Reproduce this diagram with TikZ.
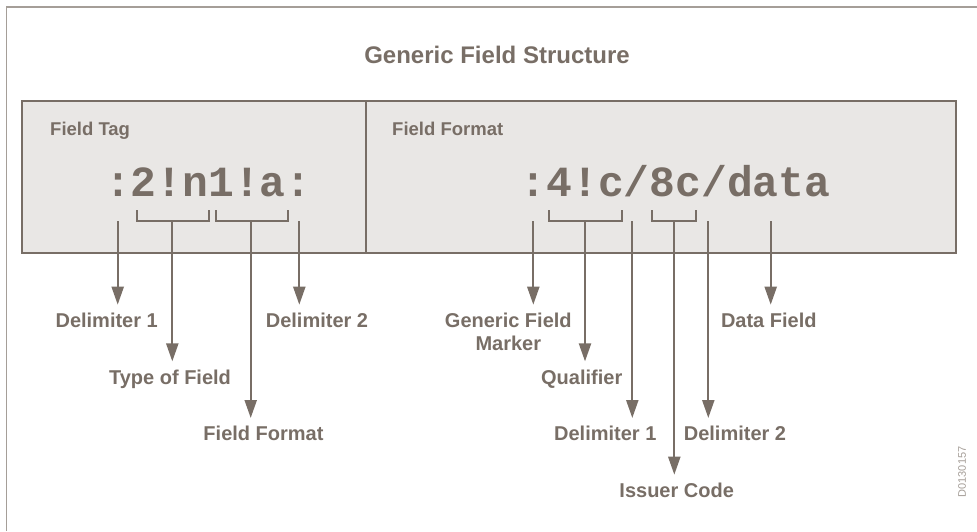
\documentclass[tikz,border=0pt]{standalone}
\usepackage{fontspec}
\setmainfont{Liberation Sans}
\newfontfamily\monob{Liberation Mono}
\usetikzlibrary{arrows.meta}
\definecolor{ink}{RGB}{120,110,102}
\definecolor{boxfill}{RGB}{233,231,229}
\definecolor{framec}{RGB}{165,158,152}
\begin{document}
\begin{tikzpicture}[x=1pt,y=-1pt,
  lab/.style={font=\fontsize{20}{23.3}\selectfont\bfseries, text=ink, inner sep=0pt, anchor=north, align=center},
  codetxt/.style={font=\fontsize{43}{43}\monob\bfseries, text=ink, inner sep=0pt, anchor=base west},
  head/.style={font=\fontsize{18.5}{20}\selectfont\bfseries, text=ink, inner sep=0pt, anchor=base west},
  arr/.style={draw=ink, line width=2.2pt, -{Triangle[length=18pt,width=12pt]}, shorten >=8pt},
  brk/.style={draw=ink, line width=2pt}]
\useasboundingbox (0,0) rectangle (977,531);
% outer frame (only top and left visible)
\draw[framec, line width=1.5pt] (6.5,531) -- (6.5,7) -- (977,7);
% title
\node[font=\fontsize{24}{26}\selectfont\bfseries, text=ink, inner sep=0pt, anchor=base] (title) at (497,63.5) {Generic Field Structure};
% boxes
\draw[ink, fill=boxfill, line width=2.6pt] (22,101) rectangle (956,253);
\draw[ink, line width=2.6pt] (366,101) -- (366,253);
\node[head] (tagh) at (50,135) {Field Tag};
\node[head] (fmth) at (392,135) {Field Format};
% code strings
\node[codetxt] (tagcode) at (104.9,196.7) {:2!n1!a:};
\node[codetxt] (fmtcode) at (520.4,196.7) {:4!c/8c/data};
% brackets
\draw[brk] (136.7,210) -- (136.7,220.7) -- (209,220.7) -- (209,210);
\draw[brk] (215.7,210) -- (215.7,220.7) -- (288.3,220.7) -- (288.3,210);
\draw[brk] (549,210) -- (549,220.7) -- (621.7,220.7) -- (621.7,210);
\draw[brk] (651.7,210) -- (651.7,220.7) -- (696,220.7) -- (696,210);
% start coordinates
\coordinate (s1) at (117.7,221);
\coordinate (s2) at (172.3,220.7);
\coordinate (s3) at (250.7,220.7);
\coordinate (s4) at (299.3,221);
\coordinate (r1) at (533.3,221);
\coordinate (r2) at (585,220.7);
\coordinate (r3) at (632.3,221);
\coordinate (r4) at (674.3,220.7);
\coordinate (r5) at (708.3,221);
\coordinate (r6) at (770.7,221);
% labels
\node[lab] (d1) at (106.7,312.7) {Delimiter 1};
\node[lab] (tf) at (170,369.4) {Type of Field};
\node[lab] (ff) at (263.5,426) {Field Format};
\node[lab] (d2) at (317,312.7) {Delimiter 2};
\node[lab] (gfm) at (508.3,312.7) {Generic Field\\Marker};
\node[lab] (q) at (581.7,369.4) {Qualifier};
\node[lab] (rd1) at (605.3,426) {Delimiter 1};
\node[lab] (ic) at (676.7,482.7) {Issuer Code};
\node[lab] (rd2) at (735,426) {Delimiter 2};
\node[lab] (df) at (768.8,312.7) {Data Field};
% arrows
\draw[arr] (s1) -- (s1 |- d1.north);
\draw[arr] (s2) -- (s2 |- tf.north);
\draw[arr] (s3) -- (s3 |- ff.north);
\draw[arr] (s4) -- (s4 |- d2.north);
\draw[arr] (r1) -- (r1 |- gfm.north);
\draw[arr] (r2) -- (r2 |- q.north);
\draw[arr] (r3) -- (r3 |- rd1.north);
\draw[arr] (r4) -- (r4 |- ic.north);
\draw[arr] (r5) -- (r5 |- rd2.north);
\draw[arr] (r6) -- (r6 |- df.north);
% id
\node[font=\fontsize{11}{12}\selectfont, text=framec, rotate=90, inner sep=0pt] (docid) at (962,472) {D0130157};
\end{tikzpicture}
\end{document}
